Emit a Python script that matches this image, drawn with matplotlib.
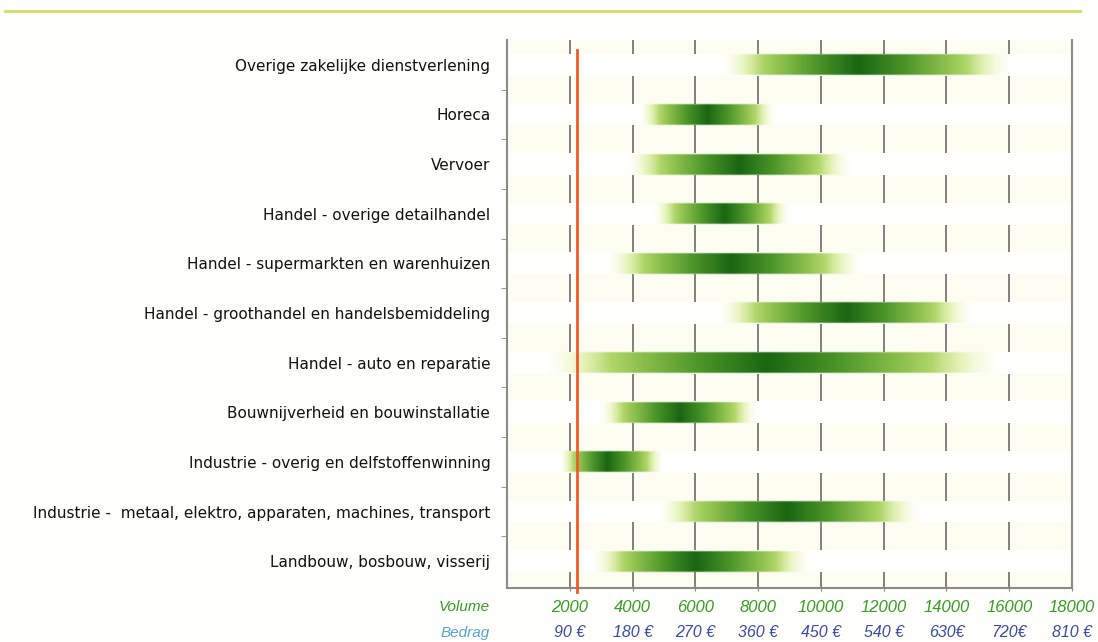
import numpy as np
import matplotlib.pyplot as plt
from matplotlib.colors import LinearSegmentedColormap
from matplotlib.lines import Line2D
import matplotlib.transforms as mtransforms

# categories top to bottom
sectors = ['Overige zakelijke dienstverlening', 'Horeca', 'Vervoer',
           'Handel - overige detailhandel', 'Handel - supermarkten en warenhuizen',
           'Handel - groothandel en handelsbemiddeling', 'Handel - auto en reparatie',
           'Bouwnijverheid en bouwinstallatie', 'Industrie - overig en delfstoffenwinning',
           'Industrie -  metaal, elektro, apparaten, machines, transport',
           'Landbouw, bosbouw, visserij']
low = [6850, 4250, 3850, 4700, 3200, 6750, 1250, 2950, 1700, 4800, 2750]
peak = [11200, 6400, 7400, 6950, 7150, 10800, 8300, 5500, 3200, 8900, 6000]
high = [16050, 8550, 10950, 9000, 11300, 14800, 15700, 7950, 4950, 13100, 9600]
reference = 2230

volume = [2000, 4000, 6000, 8000, 10000, 12000, 14000, 16000, 18000]
bedrag = ['90 €', '180 €', '270 €', '360 €', '450 €', '540 €', '630€', '720€', '810 €']

bg = '#fdfdf2'
cmap = LinearSegmentedColormap.from_list('grn', [
    (0.0, '#f4fac8'), (0.15, '#d6ec8c'), (0.4, '#93c450'),
    (0.7, '#4a9428'), (1.0, '#1a6612')])

fig = plt.figure(figsize=(10.98, 6.42), dpi=100, facecolor='#fefefa')
ax = fig.add_axes([0.4617, 0.0841, 0.5146, 0.8536])
ax.set_facecolor(bg)

n = len(sectors)
ys = np.arange(n)

# grid lines, hidden behind the white row bands
for v in volume[:-1]:
    ax.axvline(v, color='#808080', lw=1.4, zorder=1)

ax.barh(ys, 18000, left=0, height=0.44, color='#fffffd', zorder=2)

for y, a, p, b in zip(ys, low, peak, high):
    xs = np.linspace(a, b, 300)
    t = np.where(xs <= p, (xs - a) / (p - a), (b - xs) / (b - p))
    rgb = cmap(t)[:, :3]
    vy = np.linspace(-1, 1, 30)
    va = np.clip((1 - np.abs(vy)) * 7, 0, 1)
    ha = np.clip(t * 3.5, 0, 1)
    img = np.zeros((len(vy), len(xs), 4))
    img[:, :, :3] = rgb[None, :, :]
    img[:, :, 3] = va[:, None] * ha[None, :]
    ax.imshow(img, extent=[a, b, y + 0.23, y - 0.23], aspect='auto',
              interpolation='bilinear', zorder=3)

ax.axvline(reference, ymin=-0.008, ymax=0.982, color='#f05a28', lw=2,
           zorder=4, clip_on=False)

ax.set_xlim(0, 18000)
ax.set_ylim(n - 0.46, -0.5)

ax.set_yticks(ys)
ax.set_yticklabels(sectors, fontsize=11, family='DejaVu Sans', color='#111111')
ax.set_yticks(ys[:-1] + 0.5, minor=True)
ax.tick_params(axis='y', which='major', length=0, pad=12)
ax.tick_params(axis='y', which='minor', length=4, color='#888888', direction='out')
ax.set_xticks(volume)
ax.set_xticklabels([])
ax.tick_params(axis='x', length=4, color='#888888', direction='inout')

for s in ['left', 'right', 'bottom']:
    ax.spines[s].set_color('#8a8a8a')
    ax.spines[s].set_linewidth(1.5)
ax.spines['top'].set_visible(False)

trans = mtransforms.blended_transform_factory(ax.transData, ax.transAxes)
for v, e in zip(volume, bedrag):
    ax.text(v, -0.035, str(v), transform=trans, ha='center', va='center',
            fontsize=12, style='italic', color='#3a9a2a', family='Liberation Sans')
    ax.text(v, -0.082, e, transform=trans, ha='center', va='center',
            fontsize=11.5, style='italic', color='#3b4b9e', family='Liberation Sans')
ax.text(-550, -0.035, 'Volume', transform=trans, ha='right', va='center',
        fontsize=11, style='italic', color='#3a9a2a', family='Liberation Sans')
ax.text(-550, -0.082, 'Bedrag', transform=trans, ha='right', va='center',
        fontsize=11, style='italic', color='#5aa3c8', family='Liberation Sans')

fig.add_artist(Line2D([0.005, 0.984], [0.983, 0.983], transform=fig.transFigure,
                      color='#d3e070', lw=2.2))

fig.savefig('out.png', dpi=100, facecolor=fig.get_facecolor())
